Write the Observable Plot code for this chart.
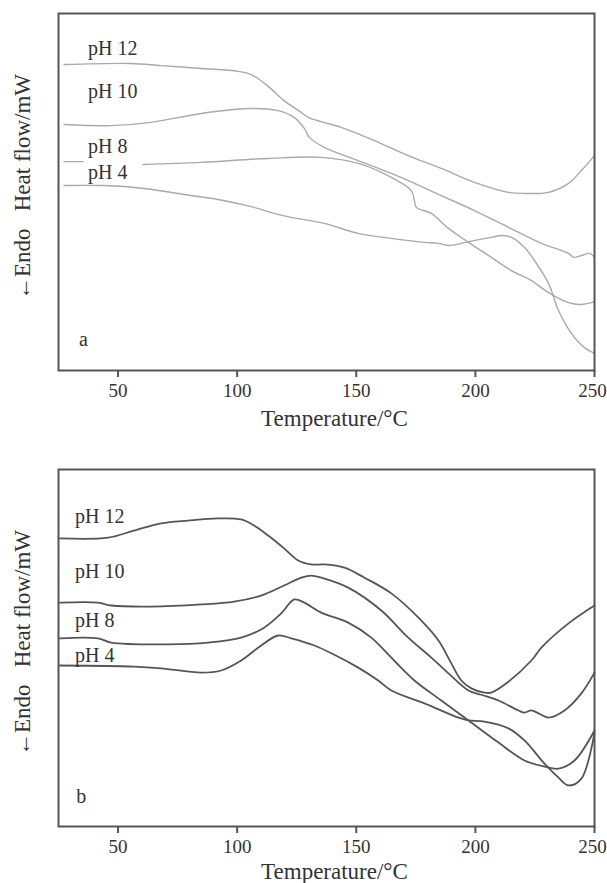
<!DOCTYPE html>
<html><head><meta charset="utf-8">
<script src="https://cdn.jsdelivr.net/npm/d3@7"></script>
<script src="https://cdn.jsdelivr.net/npm/@observablehq/plot@0.6"></script>
<style>
html,body{margin:0;padding:0;background:#fff;}
#chart{width:607px;}
#chart svg{display:block;}
</style></head><body><div id="chart"></div>
<script>
// ---- data (temperature °C, heat flow in arbitrary units 0–100) ----
const xTicks = [50, 100, 150, 200, 250];
const xLabel = "Temperature/°C";
const yLabel = "←Endo\u00a0\u00a0\u00a0Heat flow/mW";
const seriesNames = ["pH 12", "pH 10", "pH 8", "pH 4"];

// panel a
const a_pH12 = [[27.3,85.7],[55.5,86.0],[68.1,85.4],[84.9,84.6],[100.4,83.8],[105.9,82.9],[113.0,79.6],[119.7,75.6],[126.9,72.3],[129.8,70.9],[135.3,69.7],[143.7,68.1],[157.6,64.4],[171.8,60.2],[185.7,56.6],[199.6,52.7],[213.9,49.9],[220.6,49.6],[230.7,49.9],[239.1,52.4],[244.5,56.0],[250,60.2]];
const a_pH10 = [[27.3,68.9],[47.1,68.6],[63.9,69.5],[84.9,72.0],[105.9,73.4],[117.2,72.8],[123.9,70.9],[128.2,67.8],[130.3,65.3],[136.6,62.5],[150.8,58.8],[164.7,55.2],[171.8,53.2],[185.7,49.0],[199.6,44.8],[213.9,40.1],[227.7,35.6],[239.1,32.8],[241.2,31.7],[244.5,32.2],[247.9,32.8],[250,31.7]];
const a_pH8 = [[27.3,58.5],[35.3,58.5],[48,NaN],[60.5,57.7],[84.9,58.3],[113.0,59.4],[135.3,59.7],[150.8,58.0],[164.7,54.1],[173.1,50.4],[174.4,47.6],[175.2,45.7],[181.5,44.0],[188.7,39.8],[197.1,35.9],[206.7,31.7],[215.1,28.0],[223.5,25.2],[230.7,21.8],[239.1,19.0],[244.5,18.5],[250,19.3]];
const a_pH4 = [[27.3,51.8],[43.7,51.8],[60.9,51.0],[77.7,49.3],[92.0,47.9],[105.9,45.9],[115.5,44.0],[122.7,42.9],[136.6,41.2],[150.8,38.4],[164.7,37.0],[178.6,35.9],[184.5,35.6],[188.7,35.0],[197.1,36.1],[206.7,37.3],[210.9,37.8],[215.1,37.3],[220.6,34.5],[224.8,30.8],[230.7,24.4],[234.9,16.8],[240.3,10.4],[245.8,6.4],[250,4.8]];
const a_labels = [["pH 12",37.4,90.2],["pH 10",37.4,78.1],["pH 8",37.4,62.7],["pH 4",37.4,55.5]];
const a_letter = ["a", 33.6, 8.7];

// panel b
const b_pH12 = [[25.6,80.7],[45.8,80.9],[56.7,82.9],[68.1,84.9],[79.4,85.7],[92.0,86.3],[101.7,86.0],[107.1,84.3],[113.0,81.5],[119.7,77.9],[125.6,74.5],[131.1,73.4],[136.6,73.4],[145.0,72.5],[153.4,69.7],[164.7,65.3],[176.1,58.5],[184.5,52.1],[189.9,45.7],[194.1,40.9],[198.3,38.7],[203.8,37.5],[206.7,37.5],[213.0,40.1],[223.5,46.5],[227.7,50.1],[239.1,56.9],[250,61.9]];
const b_pH10 = [[25.6,62.7],[41.6,62.7],[47.1,61.9],[63.9,61.6],[84.9,62.2],[98.7,63.0],[110.1,64.7],[119.7,67.5],[126.9,69.7],[131.1,70.3],[135.3,69.7],[146.6,66.9],[160.5,60.5],[171.8,52.9],[181.5,47.3],[188.7,42.9],[197.1,38.1],[202.5,36.9],[209.7,35.3],[218.1,32.5],[220.6,31.9],[223.5,32.5],[226.5,31.7],[230.7,30.5],[237.4,32.5],[244.5,37.3],[250,43.1]];
const b_pH8 = [[25.6,52.7],[41.6,52.7],[47.1,51.5],[71.0,51.0],[87.8,51.5],[101.7,52.9],[111.3,55.7],[118.5,59.7],[124.0,63.6],[128.2,62.7],[135.3,59.9],[146.6,57.1],[156.3,52.9],[164.7,47.3],[174.4,40.9],[185.7,35.3],[197.1,29.7],[209.7,23.5],[220.6,18.5],[229.0,16.8],[234.9,16.2],[241.6,18.5],[250,26.9]];
const b_pH4 = [[25.6,45.1],[56.7,44.8],[68.1,44.3],[84.9,43.1],[93.3,43.7],[101.7,46.5],[110.1,50.7],[117.2,53.5],[122.7,52.7],[132.4,50.7],[140.8,48.1],[150.8,44.5],[159.2,40.9],[164.7,38.1],[178.6,34.5],[192.9,30.5],[197.1,29.7],[203.8,29.4],[213.9,27.5],[220.6,24.1],[229.0,17.6],[234.9,13.7],[239.1,11.5],[244.5,13.4],[250,26.3]];
const b_labels = [["pH 12",31.9,86.8],["pH 10",31.9,71.4],["pH 8",31.9,57.7],["pH 4",31.9,47.9]];
const b_letter = ["b", 32.4, 8.4];

const FONT = "'Liberation Serif', 'Times New Roman', serif";

function toRows(seriesList) {
  return seriesList.flatMap((pts, i) => pts.map(([T, v]) => ({T, v, name: seriesNames[i]})));
}

function panel({series, labels, letter, height, marginTop, marginBottom, titleOffset, lineColor, lineWidth}) {
  const rows = toRows(series);
  const lab = labels.map(([text, T, v]) => ({text, T, v}));
  const innerTicks = xTicks.slice(0, -1);
  const lastTick = xTicks.slice(-1);
  const axisOpts = {tickSize: 7, tickPadding: 6, fontSize: 19, label: null, strokeWidth: 2, stroke: "#555"};
  return Plot.plot({
    width: 607, height, marginLeft: 58, marginRight: 13, marginTop, marginBottom,
    x: {domain: [25, 250]},
    y: {domain: [0, 100], axis: null},
    style: {fontFamily: FONT, color: "#333", background: "white", overflow: "visible"},
    marks: [
      Plot.line(rows, {x: "T", y: "v", z: "name", stroke: lineColor, strokeWidth: lineWidth, curve: "catmull-rom"}),
      Plot.text(lab, {x: "T", y: "v", text: "text", textAnchor: "start", lineAnchor: "middle", fontSize: 20, fill: "#333"}),
      Plot.text([{text: letter[0], T: letter[1], v: letter[2]}], {x: "T", y: "v", text: "text", textAnchor: "start", lineAnchor: "middle", fontSize: 20, fill: "#333"}),
      Plot.frame({stroke: "#555", strokeWidth: 2}),
      Plot.axisX({...axisOpts, ticks: innerTicks}),
      Plot.axisX({...axisOpts, ticks: lastTick, text: null}),
      Plot.axisX({...axisOpts, ticks: lastTick, tickSize: 0, tickPadding: 13, dx: -2}),
      Plot.text([xLabel], {frameAnchor: "bottom", dy: titleOffset, dx: 8, fontSize: 23, lineAnchor: "middle", fill: "#333"}),
      Plot.text([yLabel], {frameAnchor: "left", rotate: -90, dx: -36, dy: -5, textAnchor: "middle", lineAnchor: "middle", fontSize: 23, fill: "#333"})
    ]
  });
}

const chart = document.getElementById("chart");
chart.append(panel({series: [a_pH12, a_pH10, a_pH8, a_pH4], labels: a_labels, letter: a_letter,
  height: 445, marginTop: 13, marginBottom: 75, titleOffset: 48, lineColor: "#a9a9a9", lineWidth: 1.4}));
chart.append(panel({series: [b_pH12, b_pH10, b_pH8, b_pH4], labels: b_labels, letter: b_letter,
  height: 438, marginTop: 24, marginBottom: 57, titleOffset: 45, lineColor: "#555", lineWidth: 1.8}));
</script></body></html>
